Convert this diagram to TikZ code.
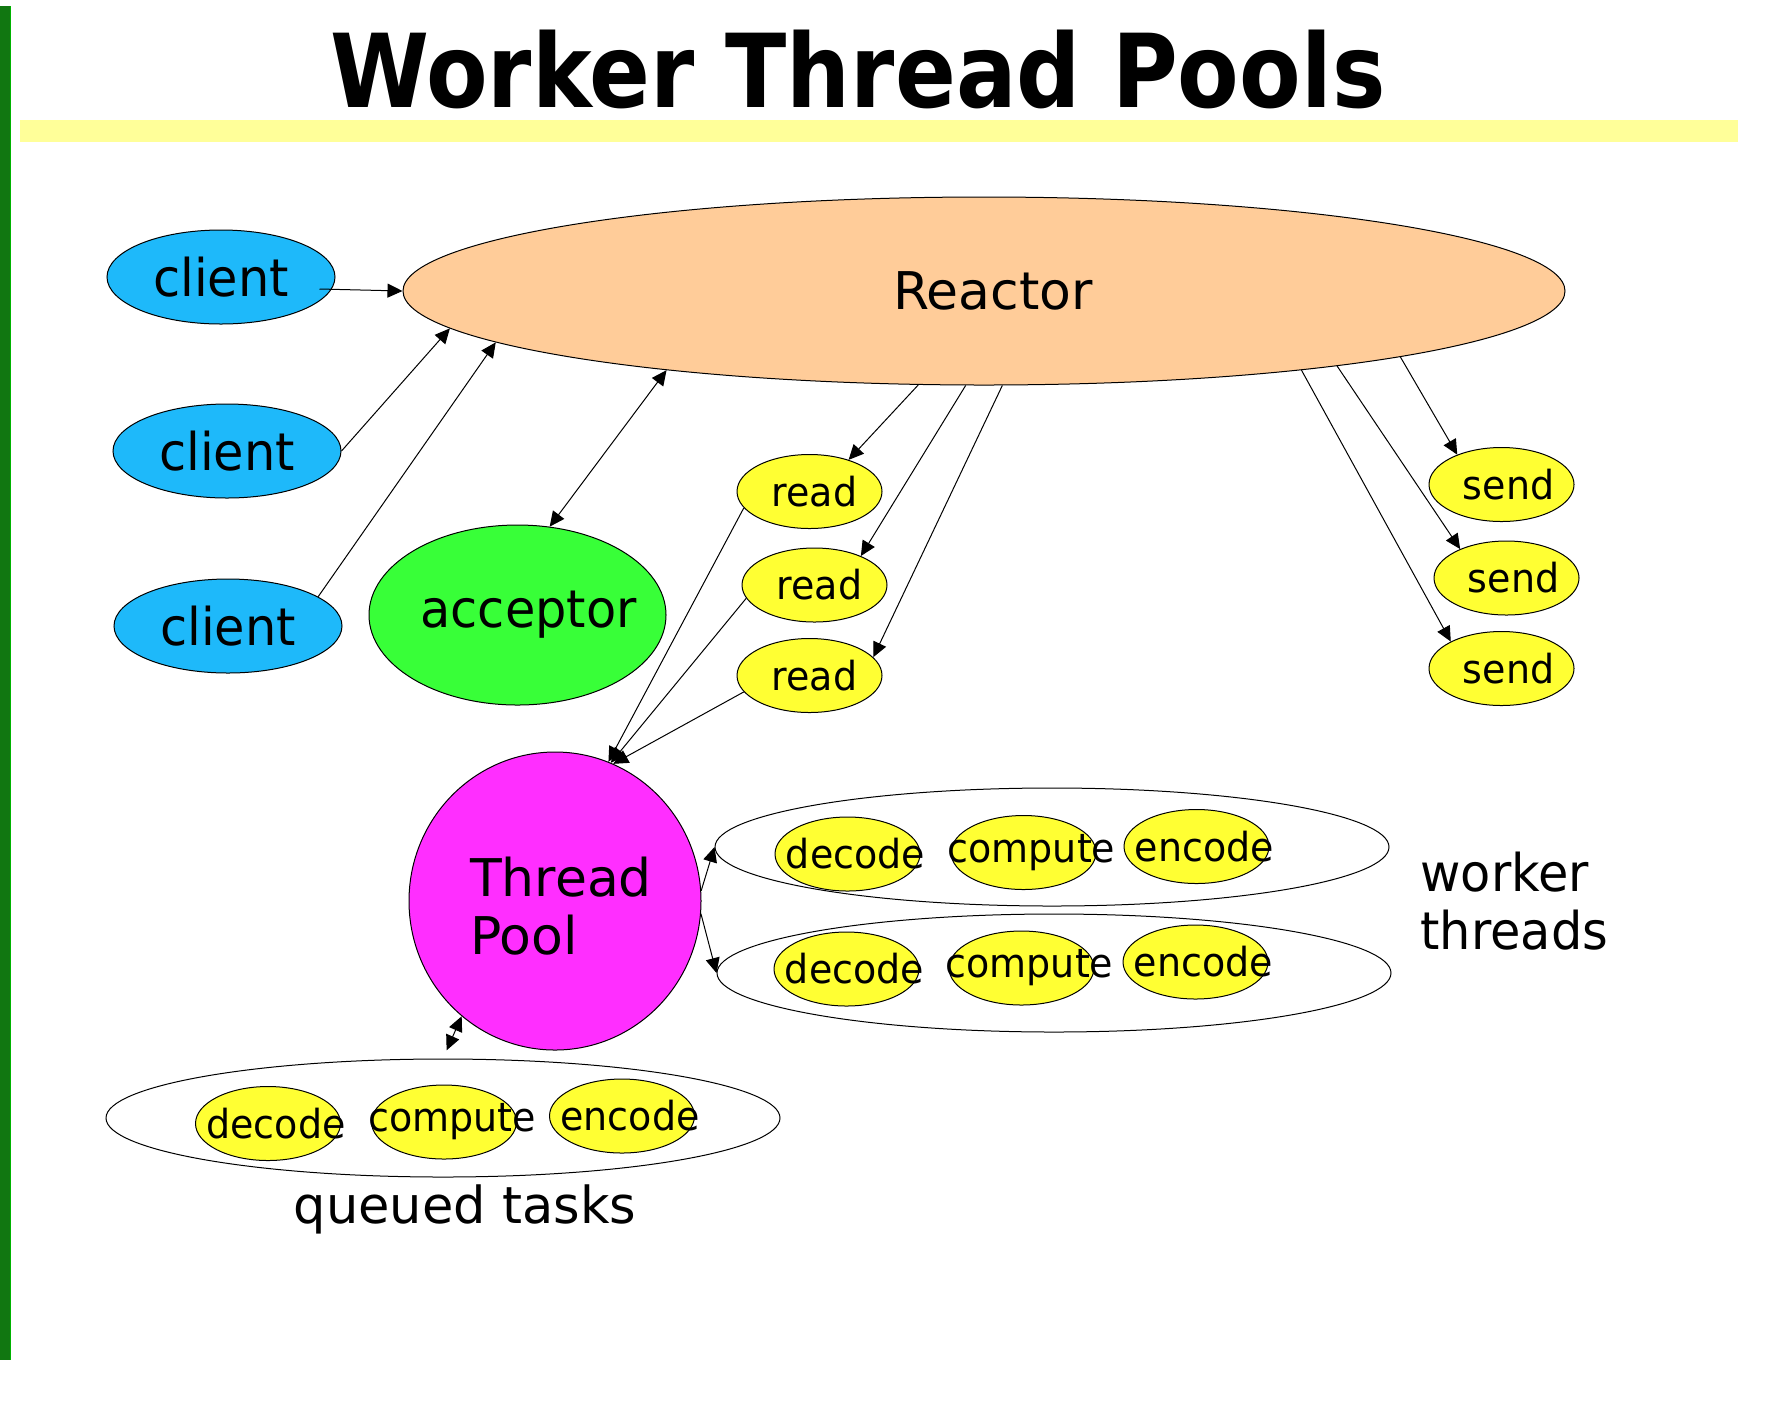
\documentclass[tikz,border=0pt]{standalone}
\usepackage{fontspec}
\setmainfont{DejaVu Sans}[FakeStretch=0.95]
\newfontfamily\widefont{DejaVu Sans}
\newfontfamily\titlefont{DejaVu Sans}[FakeStretch=0.88]
\usepackage{tikz}
\usetikzlibrary{positioning,arrows.meta,shapes.geometric,calc}

\definecolor{reactorfill}{HTML}{FFCC99}
\definecolor{clientfill}{HTML}{1EB9FA}
\definecolor{acceptfill}{HTML}{38FF38}
\definecolor{poolfill}{HTML}{FF2EFF}
\definecolor{taskfill}{HTML}{FFFF33}
\definecolor{rulefill}{HTML}{FFFF99}
\definecolor{bargreen}{HTML}{117711}

% text that may run past its oval
\newcommand{\ctext}[2][0pt]{\makebox[0pt]{\hspace{#1}#2}}

\begin{document}
\begin{tikzpicture}[
    x=0.5pt, y=-0.5pt,
    bigtext/.style={font=\fontsize{26pt}{30pt}\selectfont},
    widetext/.style={font=\widefont\fontsize{26pt}{29pt}\selectfont},
    smalltext/.style={font=\fontsize{20pt}{24pt}\selectfont},
    oval/.style={ellipse, draw, line width=0.5pt, inner sep=0pt},
    client_box/.style={oval, bigtext, fill=clientfill, minimum width=114pt, minimum height=47pt},
    task_box/.style={oval, smalltext, fill=taskfill, minimum width=72.5pt, minimum height=37pt},
    group_box/.style={oval, minimum width=337pt, minimum height=59pt},
    arrow/.style={-{Triangle[length=7.5pt,width=7pt]}, line width=0.5pt},
    darrow/.style={{Triangle[length=7.5pt,width=7pt]}-{Triangle[length=7.5pt,width=7pt]}, line width=0.5pt}
]
\useasboundingbox (0,0) rectangle (1770,1410);

% frame
\fill[bargreen] (0,6) rectangle (10,1360);
\draw[green!70!black, line width=0.5pt] (10.5,6) -- (10.5,1360);
\fill[rulefill] (20,120) rectangle (1738,142);
\node (title) [anchor=base, inner sep=0pt, font=\titlefont\bfseries\fontsize{51pt}{60pt}\selectfont] at (858,107) {Worker Thread Pools};

% reactor side
\node (reactor) [oval, widetext, fill=reactorfill, minimum width=581pt, minimum height=94pt] at (984,291) {\ctext[9pt]{Reactor}};
\node (client1) [client_box] at (221,277) {client};
\node (client2) [client_box] at (227,451) {client};
\node (client3) [client_box] at (228,626) {client};
\node (acceptor) [oval, bigtext, fill=acceptfill, minimum width=148.5pt, minimum height=90pt] at (517.5,615) {\ctext[11pt]{acceptor}};

\node (read1) [task_box] at (809.5,491.5) {\ctext[5pt]{read}};
\node (read2) [task_box] at (814.5,585) {\ctext[5pt]{read}};
\node (read3) [task_box] at (809.5,675.5) {\ctext[5pt]{read}};

\node (send1) [task_box] at (1501.5,484.5) {\ctext[7pt]{send}};
\node (send2) [task_box] at (1506.5,578) {\ctext[7pt]{send}};
\node (send3) [task_box] at (1501.5,668.5) {\ctext[7pt]{send}};

% pool and workers
\node (tp) [oval, fill=poolfill, minimum width=146pt, minimum height=149pt,
    label={[widetext, align=left, inner sep=0pt, xshift=3pt, yshift=-2.5pt]center:Thread\\Pool}] at (555,901) {};

\node (wt1) [group_box] at (1052,847) {};
\node (wt2) [group_box] at (1054,973) {};
\node (queue) [group_box] at (443,1118) {};

\node (decode1)  [task_box] at (847.5,854)  {\ctext[8pt]{decode}};
\node (compute1) [task_box] at (1023.5,852.5) {\ctext[8pt]{compute}};
\node (encode1)  [task_box] at (1196.5,846.5) {\ctext[8pt]{encode}};
\node (decode2)  [task_box] at (846.5,969)  {\ctext[8pt]{decode}};
\node (compute2) [task_box] at (1021.5,968) {\ctext[8pt]{compute}};
\node (encode2)  [task_box] at (1195.5,962) {\ctext[8pt]{encode}};
\node (decode3)  [task_box] at (268,1123.5) {\ctext[8pt]{decode}};
\node (compute3) [task_box] at (444,1122)   {\ctext[8pt]{compute}};
\node (encode3)  [task_box] at (622,1116)   {\ctext[8pt]{encode}};

\node (workers) [align=left, anchor=west, inner sep=0pt, font=\fontsize{26pt}{29pt}\selectfont] at (1420,901) {worker\\threads};
\node (queued) [inner sep=0pt, font=\widefont\fontsize{25.5pt}{29pt}\selectfont] at (465,1209) {queued tasks};

% connectors
\draw[arrow] ([xshift=-8pt,yshift=-6pt]client1.east) -- (reactor.west);
\draw[arrow] (client2.east) -- (reactor.184);
\draw[arrow] (client3.18) -- (reactor.186);
\draw[darrow] (acceptor.70) -- (reactor.194);

\draw[arrow] (reactor.235) -- (read1.39);
\draw[arrow] (reactor.259) -- (read2.32);
\draw[arrow] (reactor.281) -- (read3.16);
\draw[arrow] (read1.194) -- (tp.69);
\draw[arrow] (read2.191) -- (tp.68);
\draw[arrow] (read3.194) -- (tp.67);

\draw[arrow] (reactor.-9) -- (send1.146);
\draw[arrow] (reactor.-12) -- (send2.148);
\draw[arrow] (reactor.-14) -- (send3.152);

\draw[arrow] (tp.4) -- (wt1.west);
\draw[arrow] (tp.-5) -- (wt2.west);
\draw[darrow, shorten >=4.5pt] (tp.231) -- (queue.north);

\end{tikzpicture}
\end{document}
